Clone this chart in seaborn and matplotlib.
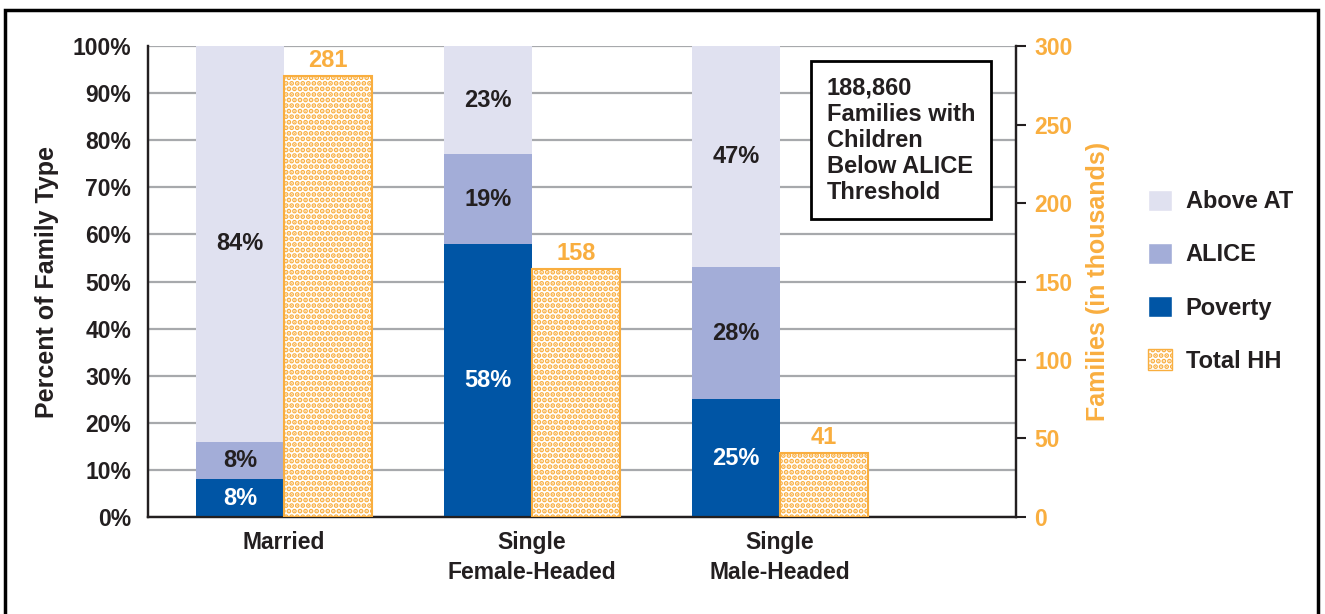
import numpy as np
import seaborn as sns
import matplotlib.pyplot as plt
from matplotlib.patches import Patch, Rectangle

categories = ['Married', 'Single\nFemale-Headed', 'Single\nMale-Headed']
poverty = [8, 58, 25]
alice = [8, 19, 28]
above_at = [84, 23, 47]
total_hh = [281, 158, 41]

sns.set_theme(style='white')
plt.rcParams['font.family'] = ['Liberation Sans', 'DejaVu Sans']
plt.rcParams['font.weight'] = 'bold'
plt.rcParams['hatch.linewidth'] = 2.5

c_above = '#E0E1F0'
c_alice = '#A3ADD8'
c_pov = '#0055A5'
c_orange = '#F9AE3F'
c_text = '#231F20'

fig = plt.figure(figsize=(13.25, 6.14), dpi=100)
ax = fig.add_axes([0.1117, 0.158, 0.6551, 0.767])
ax2 = ax.twinx()

x = np.arange(len(categories))
w = 0.355
pov = np.array(poverty)
ali = np.array(alice)
abv = np.array(above_at)

ax.bar(x - w / 2, pov, w, color=c_pov, linewidth=0, zorder=3)
ax.bar(x - w / 2, ali, w, bottom=pov, color=c_alice, linewidth=0, zorder=3)
ax.bar(x - w / 2, abv, w, bottom=pov + ali, color=c_above, linewidth=0, zorder=3)

fs = 17
for i in range(len(categories)):
    ax.text(x[i] - w / 2, pov[i] / 2, f'{pov[i]}%', ha='center', va='center',
            color='white', fontsize=fs, fontweight='bold', zorder=5)
    ax.text(x[i] - w / 2, pov[i] + ali[i] / 2, f'{ali[i]}%', ha='center', va='center',
            color=c_text, fontsize=fs, fontweight='bold', zorder=5)
    ax.text(x[i] - w / 2, pov[i] + ali[i] + abv[i] / 2, f'{abv[i]}%', ha='center',
            va='center', color=c_text, fontsize=fs, fontweight='bold', zorder=5)

ax2.bar(x + w / 2, total_hh, w, facecolor='white', edgecolor=c_orange,
        hatch='...', linewidth=1.5, zorder=3)
for i, v in enumerate(total_hh):
    ax2.text(x[i] + w / 2, v + 2.5, str(v), ha='center', va='bottom',
             color=c_orange, fontsize=fs, fontweight='bold')

ax.set_xlim(-0.548, 2.952)
ax.set_ylim(0, 100)
ax2.set_ylim(0, 300)
ax.set_yticks(np.arange(0, 101, 10))
ax.set_yticklabels([f'{t}%' for t in range(0, 101, 10)])
ax2.set_yticks(np.arange(0, 301, 50))
ax.set_xticks(x)
ax.set_xticklabels(categories)

ax.yaxis.grid(True, color='#A7A9AC', linewidth=1.6, zorder=0)
ax.set_axisbelow(True)

ax.tick_params(axis='y', length=0, labelsize=16.5, labelcolor=c_text, pad=12)
ax.tick_params(axis='x', length=0, labelsize=16.5, labelcolor=c_text, pad=10)
ax2.tick_params(axis='y', direction='out', length=7, width=1.5, color=c_text,
                labelsize=16.5, labelcolor=c_orange, pad=6, right=True)
for lab in ax.get_xticklabels() + ax.get_yticklabels() + ax2.get_yticklabels():
    lab.set_fontweight('bold')
for lab in ax.get_xticklabels():
    lab.set_linespacing(1.4)

for a in (ax, ax2):
    a.spines['top'].set_visible(False)
    for s in ('left', 'bottom', 'right'):
        a.spines[s].set_color(c_text)
        a.spines[s].set_linewidth(1.6)

ax.set_ylabel('Percent of Family Type', fontsize=18, fontweight='bold',
              color=c_text, labelpad=10)
ax2.set_ylabel('Families (in thousands)', fontsize=18, fontweight='bold',
               color=c_orange, labelpad=10)

ax.text(0.782, 0.935, '188,860\nFamilies with\nChildren\nBelow ALICE\nThreshold',
        transform=ax.transAxes, ha='left', va='top', fontsize=17, fontweight='bold',
        color=c_text, linespacing=1.17, zorder=6,
        bbox=dict(boxstyle='square,pad=0.65', facecolor='white', edgecolor='black',
                  linewidth=2))

handles = [Patch(facecolor=c_above, label='Above AT'),
           Patch(facecolor=c_alice, label='ALICE'),
           Patch(facecolor=c_pov, label='Poverty'),
           Patch(facecolor='white', edgecolor=c_orange, hatch='...', label='Total HH')]
leg = fig.legend(handles=handles, loc='center left', bbox_to_anchor=(1148 / 1325, 0.542),
                 frameon=False, handlelength=1.0, handleheight=1.0, borderpad=0,
                 borderaxespad=0, labelspacing=1.25, handletextpad=0.6,
                 prop={'weight': 'bold', 'size': 17})
for t in leg.get_texts():
    t.set_color(c_text)

fig.patches.append(Rectangle((5 / 1325, -0.05), 1313 / 1325, 1.05 - 10 / 614,
                             transform=fig.transFigure, fill=False,
                             edgecolor='black', linewidth=2.5))

fig.savefig('out.png', dpi=100)
